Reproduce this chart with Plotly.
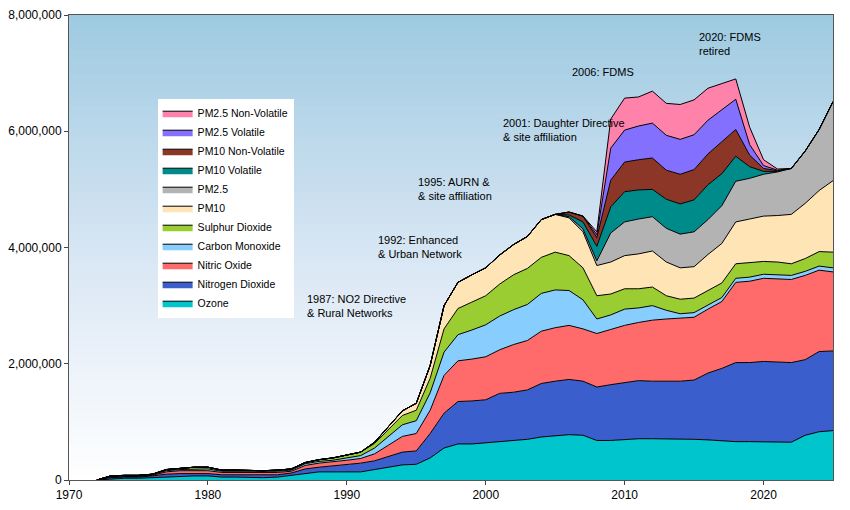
import numpy as np
import plotly.graph_objects as go

years = list(range(1972, 2026))

# sites per pollutant (millions)
ozone = [0, .02, .03, .03, .04, .06, .07, .07, .07, .05,
         .05, .04, .04, .05, .08, .12, .14, .14, .14, .14,
         .18, .22, .26, .27, .38, .55, .62, .62, .64, .66,
         .68, .70, .74, .76, .78, .77, .68, .68, .70, .71,
         .71, .71, .70, .70, .69, .67, .66, .66, .66, .66,
         .65, .77, .83, .85]
no2 = [0, .02, .02, .02, .03, .04, .04, .04, .04, .04,
       .04, .04, .04, .04, .04, .07, .08, .10, .12, .15,
       .15, .18, .22, .23, .42, .60, .73, .74, .74, .83,
       .83, .85, .92, .94, .95, .93, .92, .96, .98, 1.0,
       .99, .99, 1.0, 1.02, 1.15, 1.25, 1.36, 1.36, 1.38, 1.37,
       1.37, 1.30, 1.38, 1.37]
no = [0, .01, .01, .01, .01, .04, .05, .05, .05, .04,
      .04, .04, .04, .04, .03, .06, .07, .07, .08, .08,
      .12, .20, .27, .30, .40, .65, .70, .72, .74, .75,
      .82, .85, .90, .92, .93, .90, .92, .95, .98, 1.0,
      1.05, 1.07, 1.08, 1.08, 1.10, 1.15, 1.38, 1.40, 1.43, 1.43,
      1.43, 1.45, 1.40, 1.36]
co = [0, .01, .01, .01, .01, .02, .02, .03, .03, .02,
      .02, .02, .02, .02, .02, .03, .03, .03, .04, .05,
      .10, .15, .20, .22, .30, .40, .45, .50, .55, .58,
      .60, .62, .65, .65, .60, .50, .25, .25, .28, .25,
      .25, .15, .08, .08, .07, .07, .07, .07, .07, .07,
      .07, .07, .07, .07]
so2 = [0, .01, .01, .01, .01, .02, .02, .03, .03, .02,
       .02, .02, .02, .02, .02, .02, .03, .04, .05, .06,
       .08, .12, .16, .18, .25, .40, .45, .48, .50, .55,
       .60, .62, .62, .65, .60, .55, .40, .36, .35, .33,
       .32, .25, .25, .25, .25, .25, .25, .25, .22, .22,
       .20, .22, .25, .27]
pm10 = [0] * 20 + [
    .02, .05, .08, .12, .22, .40, .45, .47, .48, .50,
    .52, .55, .65, .65, .65, .62, .52, .55, .57, .60,
    .62, .58, .54, .54, .62, .68, .72, .75, .78, .80,
    .85, .95, 1.05, 1.23]
pm25 = [0] * 34 + [
    .02, .05, .08, .50, .58, .60, .59, .58, .58, .60,
    .60, .65, .70, .70, .72, .75, .79, .90, 1.05, 1.36]
pm10_vol = [0] * 34 + [
    .03, .12, .25, .45, .52, .50, .47, .50, .52, .55,
    .60, .55, .43, .20, .05, .01, 0, 0, 0, 0]
pm10_nonvol = [0] * 34 + [
    .05, .10, .15, .46, .51, .52, .54, .50, .51, .52,
    .53, .55, .46, .20, .05, .01, 0, 0, 0, 0]
pm25_vol = [0] * 36 + [
    .05, .55, .55, .58, .60, .60, .60, .60, .58, .55,
    .52, .18, .05, .01, 0, 0, 0, 0]
pm25_nonvol = [0] * 36 + [
    .05, .50, .55, .50, .55, .55, .60, .60, .55, .45,
    .35, .30, .10, .02, 0, 0, 0, 0]

series = [
    ("Ozone", ozone, "#00C5CD"),
    ("Nitrogen Dioxide", no2, "#3A5FCD"),
    ("Nitric Oxide", no, "#FF6A6A"),
    ("Carbon Monoxide", co, "#87CEFF"),
    ("Sulphur Dioxide", so2, "#9ACD32"),
    ("PM10", pm10, "#FFE4B5"),
    ("PM2.5", pm25, "#B3B3B3"),
    ("PM10 Volatile", pm10_vol, "#008B8B"),
    ("PM10 Non-Volatile", pm10_nonvol, "#8B3626"),
    ("PM2.5 Volatile", pm25_vol, "#8470FF"),
    ("PM2.5 Non-Volatile", pm25_nonvol, "#FF82AB"),
]

notes = [
    (1987, 2.99e6, "1987: NO2 Directive<br>& Rural Networks"),
    (1992.1, 4.01e6, "1992: Enhanced<br>& Urban Network"),
    (1995, 5.01e6, "1995: AURN &<br>& site affiliation"),
    (2001.1, 6.02e6, "2001: Daughter Directive<br>& site affiliation"),
    (2006.1, 7.02e6, "2006: FDMS"),
    (2015.2, 7.5e6, "2020: FDMS<br>retired"),
]

fig = go.Figure()

# gradient background
gy = np.linspace(0, 8e6, 60)
fig.add_trace(go.Heatmap(x=[1970, 2025], y=gy, z=[[v, v] for v in gy],
                         colorscale=[[0, "#FFFFFF"], [0.45, "#DCE8F5"], [1, "#9ECAE1"]],
                         showscale=False, hoverinfo="skip", showlegend=False))

for name, vals, col in series:
    fig.add_trace(go.Scatter(x=years, y=[v * 1e6 for v in vals], name=name,
                             stackgroup="one", mode="lines",
                             line=dict(color="black", width=1),
                             fillcolor=col))

for x, y, t in notes:
    fig.add_annotation(x=x, y=y, text=t, showarrow=False, xanchor="left",
                       align="left", font=dict(size=11, color="black"))

# page body adds 8px, so margins are shifted to land the plot where the reference has it
fig.update_layout(
    width=850, height=510,
    margin=dict(l=61, r=25, t=7, b=38),
    paper_bgcolor="white", plot_bgcolor="white",
    font=dict(family="Liberation Sans, Arial", size=12, color="black"),
    legend=dict(x=0.116, y=0.82, xanchor="left", yanchor="top",
                traceorder="reversed", bgcolor="white",
                font=dict(size=10.5), tracegroupgap=0),
    xaxis=dict(range=[1970, 2025], tickvals=[1970, 1980, 1990, 2000, 2010, 2020],
               showgrid=False, ticks="outside", ticklen=4, showline=True,
               linecolor="#555", mirror=True, zeroline=False, automargin=False),
    yaxis=dict(range=[0, 8e6], tickvals=[0, 2e6, 4e6, 6e6, 8e6], tickformat=",d",
               showgrid=False, ticks="outside", ticklen=4, showline=True,
               linecolor="#555", mirror=True, zeroline=False, automargin=False),
)

fig.write_html("out.html")
